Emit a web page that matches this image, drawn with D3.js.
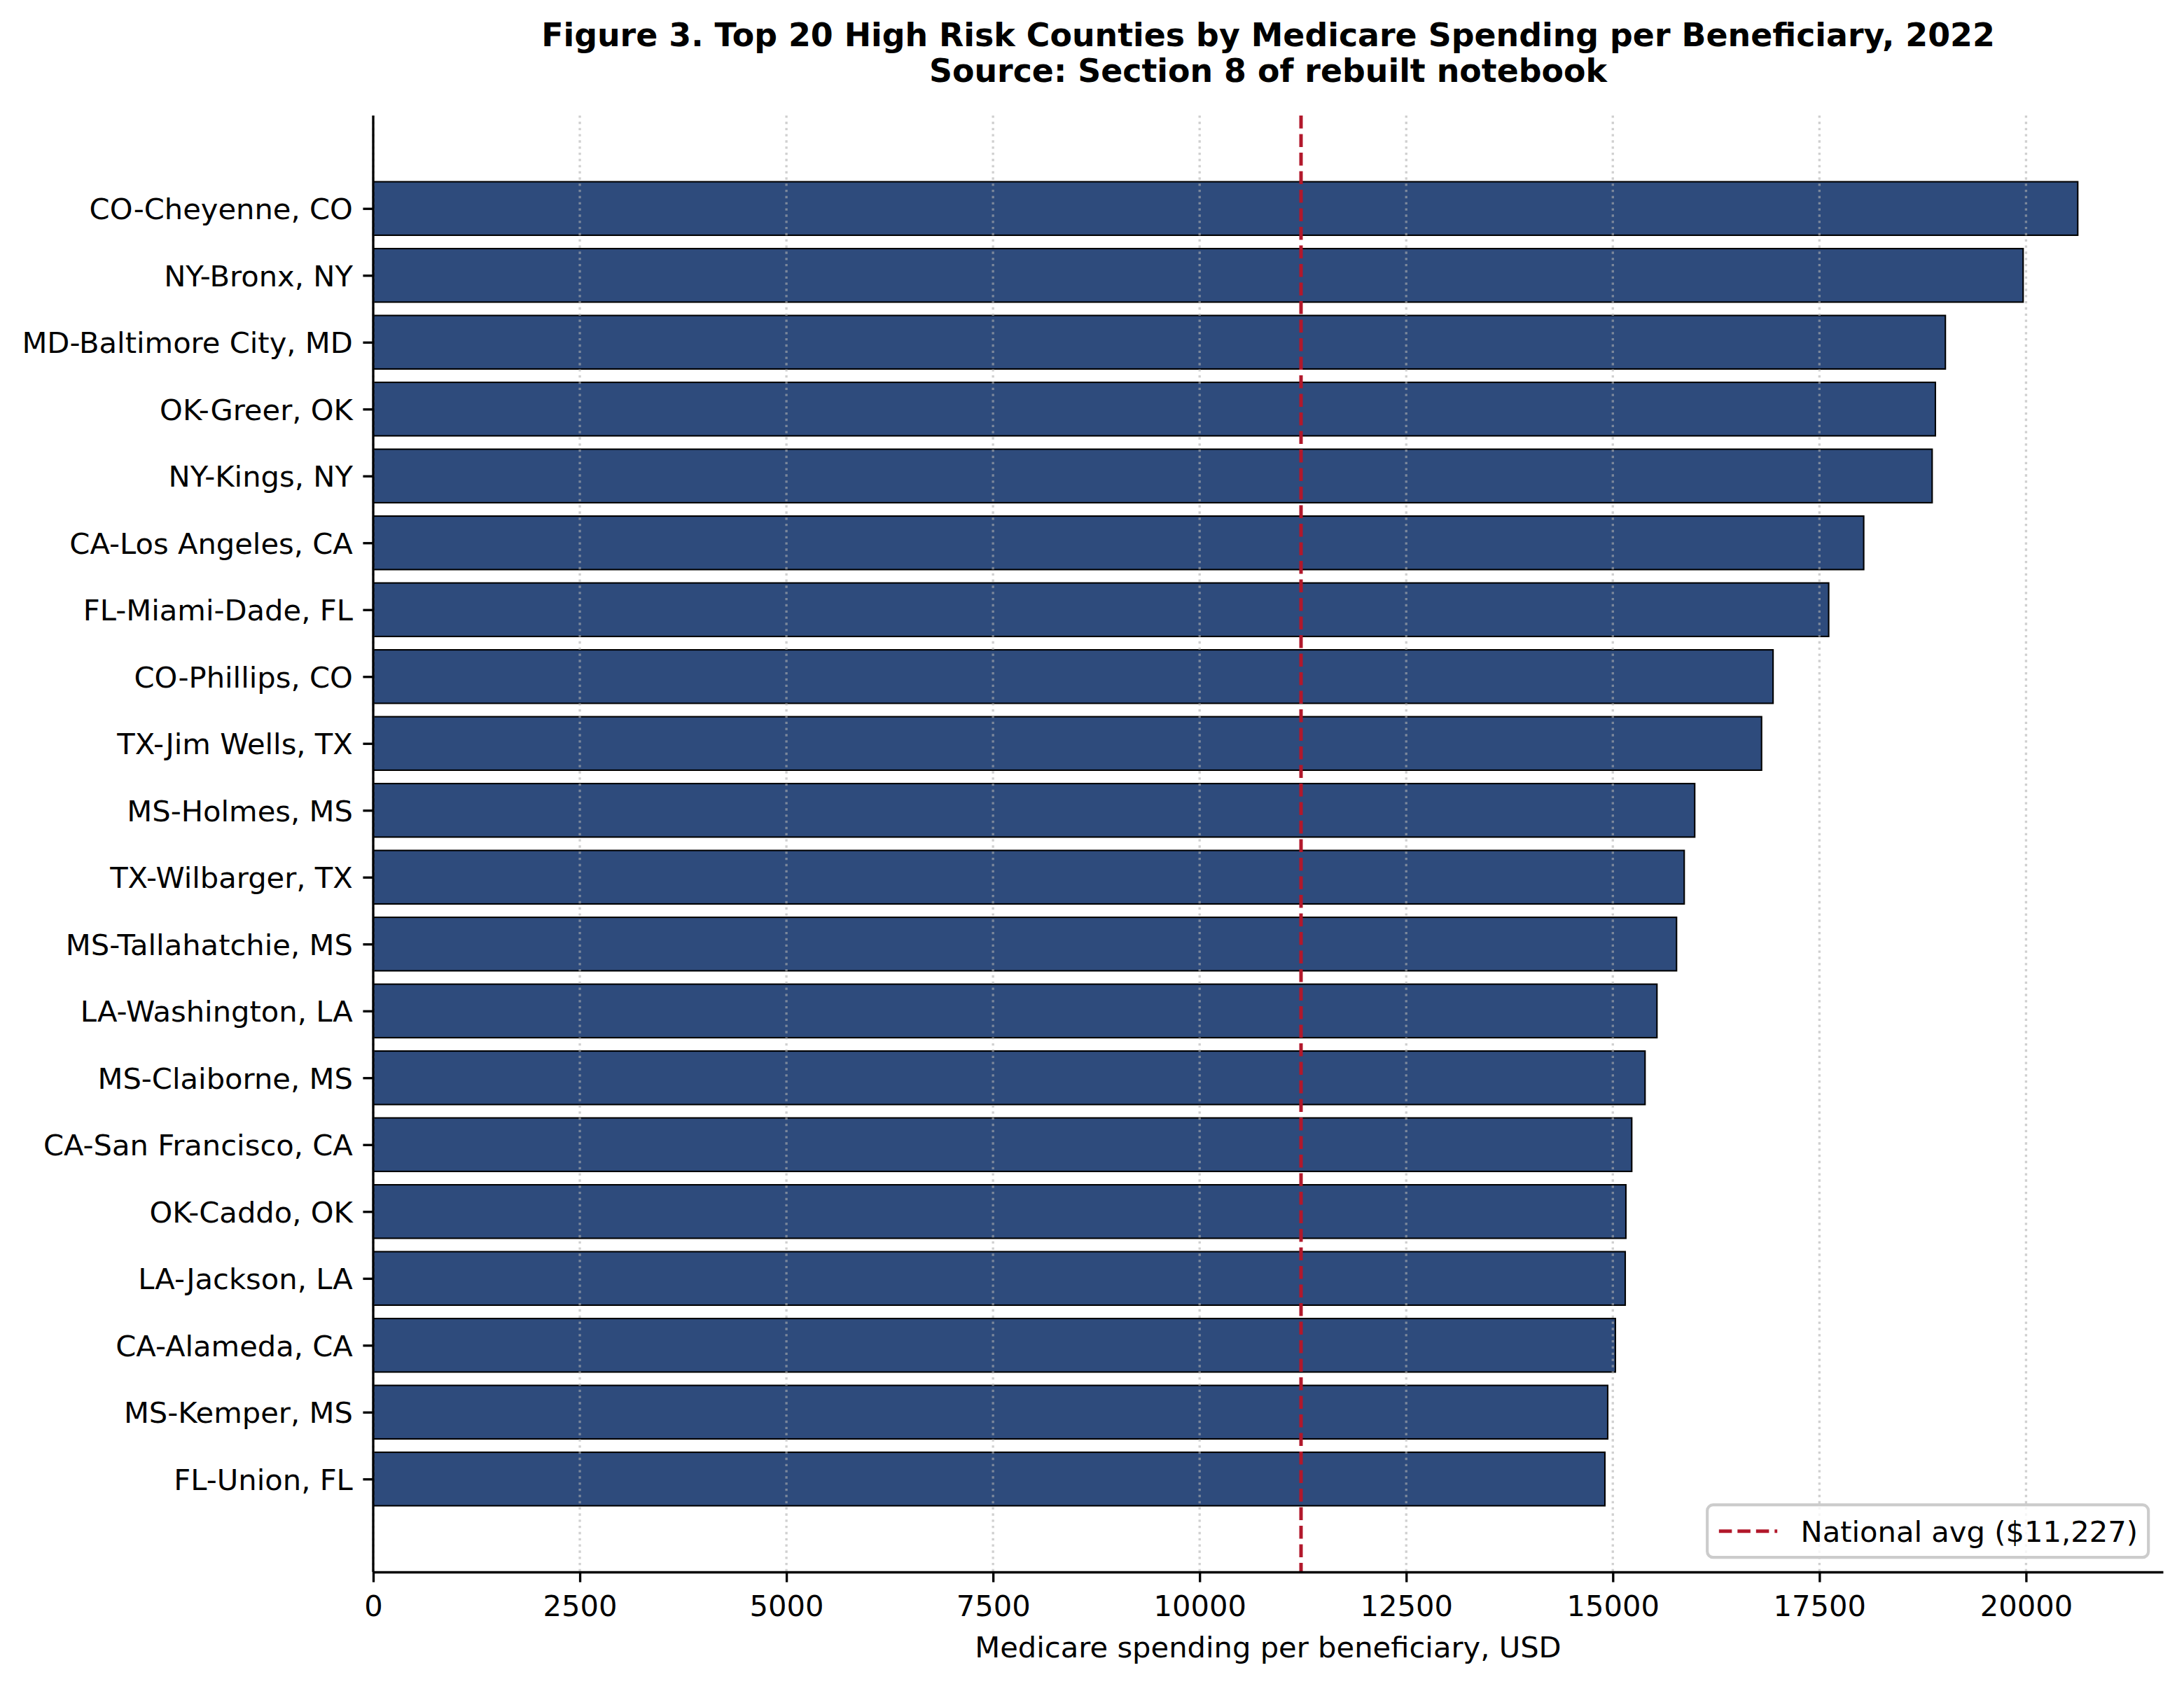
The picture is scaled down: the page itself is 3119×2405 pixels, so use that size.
<!DOCTYPE html>
<html>
<head>
<meta charset="utf-8">
<script src="https://cdn.jsdelivr.net/npm/d3@7"></script>
<style>
  html, body { margin: 0; padding: 0; background: #ffffff; }
  svg text { font-family: "DejaVu Sans", sans-serif; fill: #000; }
</style>
</head>
<body>
<div id="chart"></div>
<script>
// Counties, top to bottom
const counties = [
    "CO-Cheyenne, CO", "NY-Bronx, NY", "MD-Baltimore City, MD", "OK-Greer, OK",
    "NY-Kings, NY", "CA-Los Angeles, CA", "FL-Miami-Dade, FL", "CO-Phillips, CO",
    "TX-Jim Wells, TX", "MS-Holmes, MS", "TX-Wilbarger, TX", "MS-Tallahatchie, MS",
    "LA-Washington, LA", "MS-Claiborne, MS", "CA-San Francisco, CA", "OK-Caddo, OK",
    "LA-Jackson, LA", "CA-Alameda, CA", "MS-Kemper, MS", "FL-Union, FL"
];

// Medicare spending per beneficiary, USD
const spending = [
    20626, 19965, 19024, 18903, 18864, 18036, 17612, 16939, 16800, 15991,
    15864, 15771, 15534, 15390, 15229, 15158, 15150, 15031, 14938, 14904
];

const nationalAvg = 11227;
const xTicks = [0, 2500, 5000, 7500, 10000, 12500, 15000, 17500, 20000];

const titleLines = [
    "Figure 3. Top 20 High Risk Counties by Medicare Spending per Beneficiary, 2022",
    "Source: Section 8 of rebuilt notebook"
];
const xLabel = "Medicare spending per beneficiary, USD";
const legendLabel = "National avg ($11,227)";

const width = 3119;
const height = 2405;
const pt = 300 / 72;           // figure was saved at 300 dpi
const fs = 10 * pt;            // 10pt text

// axes box
const axLeft = 533, axRight = 3089, axTop = 165, axBottom = 2245;

const svg = d3.select("#chart")
    .append("svg")
    .attr("width", width)
    .attr("height", height);

svg.append("rect")
    .attr("width", width)
    .attr("height", height)
    .attr("fill", "#ffffff");

// scales (matplotlib style margins)
const xMax = d3.max(spending) * 1.05;
const x = d3.scaleLinear().domain([0, xMax]).range([axLeft, axRight]);

const barH = 0.8;
const yPad = 0.05 * (counties.length - 1 + barH);
const y = d3.scaleLinear()
    .domain([-barH / 2 - yPad, counties.length - 1 + barH / 2 + yPad])
    .range([axTop, axBottom]);

// bars
svg.append("g").selectAll("rect")
    .data(spending)
    .enter().append("rect")
    .attr("x", x(0))
    .attr("y", (d, i) => y(i - barH / 2))
    .attr("width", d => x(d) - x(0))
    .attr("height", (d, i) => y(i + barH / 2) - y(i - barH / 2))
    .attr("fill", "#2e4b7c")
    .attr("stroke", "#000")
    .attr("stroke-width", 0.5 * pt);

// vertical dotted grid, drawn above the bars like matplotlib does
svg.append("g").selectAll("line")
    .data(xTicks)
    .enter().append("line")
    .attr("x1", d => x(d))
    .attr("x2", d => x(d))
    .attr("y1", axTop)
    .attr("y2", axBottom)
    .attr("stroke", "#b0b0b0")
    .attr("stroke-opacity", 0.6)
    .attr("stroke-width", 0.8 * pt)
    .attr("stroke-dasharray", `${0.8 * pt} ${1.65 * 0.8 * pt}`);

// national average line
svg.append("line")
    .attr("x1", x(nationalAvg))
    .attr("x2", x(nationalAvg))
    .attr("y1", axTop)
    .attr("y2", axBottom)
    .attr("stroke", "#b2182b")
    .attr("stroke-width", 1.2 * pt)
    .attr("stroke-dasharray", `${3.7 * 1.2 * pt} ${1.6 * 1.2 * pt}`);

// x axis
const tickLen = 3.5 * pt;
const xAxis = svg.append("g")
    .attr("transform", `translate(0,${axBottom})`)
    .call(d3.axisBottom(x)
        .tickValues(xTicks)
        .tickFormat(d3.format("d"))
        .tickSize(tickLen)
        .tickSizeOuter(0));

xAxis.select(".domain")
    .attr("stroke", "#000")
    .attr("stroke-width", 0.8 * pt);
xAxis.selectAll(".tick line")
    .attr("stroke", "#000")
    .attr("stroke-width", 0.8 * pt);
xAxis.selectAll(".tick text")
    .attr("font-family", "DejaVu Sans")
    .attr("font-size", fs)
    .attr("fill", "#000")
    .attr("y", 63)
    .attr("dy", null);

// y axis
const yAxis = svg.append("g")
    .attr("transform", `translate(${axLeft},0)`)
    .call(d3.axisLeft(y)
        .tickValues(d3.range(counties.length))
        .tickFormat(i => counties[i])
        .tickSize(tickLen)
        .tickPadding(3.5 * pt)
        .tickSizeOuter(0));

yAxis.select(".domain")
    .attr("d", `M0,${axTop}V${axBottom}`)
    .attr("stroke", "#000")
    .attr("stroke-width", 0.8 * pt);
yAxis.selectAll(".tick line")
    .attr("stroke", "#000")
    .attr("stroke-width", 0.8 * pt);
yAxis.selectAll(".tick text")
    .attr("font-family", "DejaVu Sans")
    .attr("font-size", fs)
    .attr("fill", "#000")
    .attr("dy", "0.365em");

// x label
svg.append("text")
    .attr("x", (axLeft + axRight) / 2)
    .attr("y", 2367)
    .attr("text-anchor", "middle")
    .attr("font-size", fs)
    .text(xLabel);

// title
svg.append("g").selectAll("text")
    .data(titleLines)
    .enter().append("text")
    .attr("x", (axLeft + axRight) / 2)
    .attr("y", (d, i) => 66 + i * 51.3)
    .attr("text-anchor", "middle")
    .attr("font-size", 11 * pt)
    .attr("font-weight", "bold")
    .text(d => d);

// legend, lower right
const legW = 630, legH = 75;
const legX = axRight - 0.5 * fs - legW;
const legY = axBottom - 0.5 * fs - legH;
const legend = svg.append("g");

legend.append("rect")
    .attr("x", legX)
    .attr("y", legY)
    .attr("width", legW)
    .attr("height", legH)
    .attr("rx", 0.2 * fs)
    .attr("fill", "#ffffff")
    .attr("fill-opacity", 0.8)
    .attr("stroke", "#cccccc")
    .attr("stroke-width", 1 * pt);

const legMid = legY + legH / 2;
legend.append("line")
    .attr("x1", legX + 0.4 * fs)
    .attr("x2", legX + 0.4 * fs + 2 * fs)
    .attr("y1", legMid)
    .attr("y2", legMid)
    .attr("stroke", "#b2182b")
    .attr("stroke-width", 1.2 * pt)
    .attr("stroke-dasharray", `${3.7 * 1.2 * pt} ${1.6 * 1.2 * pt}`);

legend.append("text")
    .attr("x", legX + 0.4 * fs + 2.8 * fs)
    .attr("y", legMid)
    .attr("dy", "0.365em")
    .attr("font-size", fs)
    .text(legendLabel);
</script>
</body>
</html>
